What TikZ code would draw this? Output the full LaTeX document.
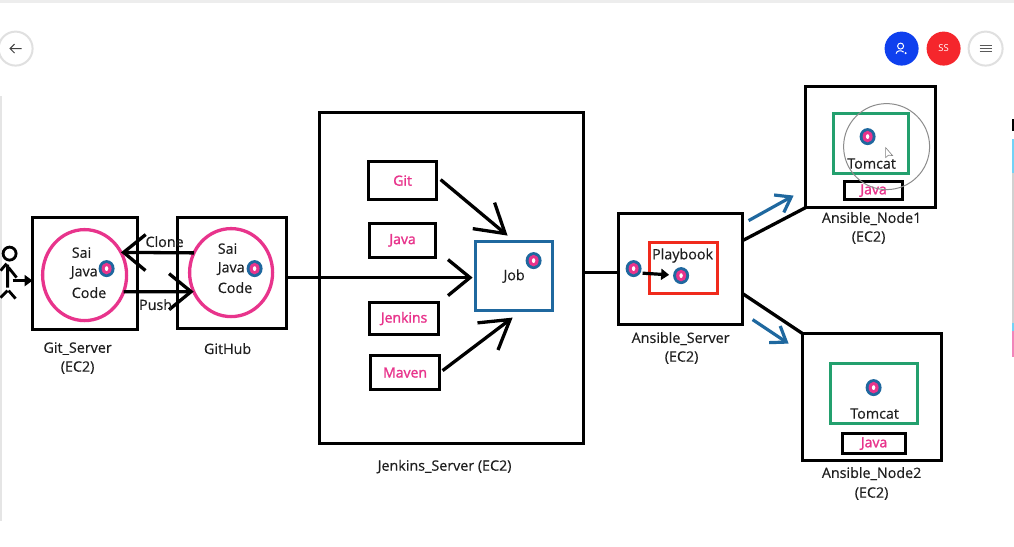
\documentclass[tikz,border=0pt]{standalone}
\usepackage{fontspec}
\setmainfont{Open Sans}
\newfontfamily\lf[FakeBold=0.4]{Open Sans}
\newfontfamily\pf[FakeBold=1.6]{Open Sans}
\usetikzlibrary{arrows.meta,shapes.geometric,calc}
\definecolor{pinkc}{HTML}{E8348C}
\definecolor{blueb}{HTML}{1F689F}
\definecolor{greenb}{HTML}{23A06E}
\definecolor{redb}{HTML}{F02A1C}
\definecolor{txt}{HTML}{1E1E1E}
\tikzset{
  bx/.style={draw=black,line width=3.1pt,rectangle,inner sep=0pt,outer sep=0pt,line join=miter},
  pinkt/.style={font=\pf\fontsize{14}{15}\selectfont,text=pinkc},
  lab/.style={font=\lf\fontsize{14.3}{15}\selectfont,text=txt,inner sep=0pt,yshift=-1pt},
  circ/.style={draw=pinkc,line width=3.3pt,ellipse,inner sep=0pt,outer sep=0pt},
  conn/.style={line width=3.3pt,black},
  barb/.style={conn,-{Straight Barb[length=22pt,width=36pt,line width=3.3pt]}},
  slant/.style={conn,-{Straight Barb[length=28pt,width=34pt,line width=3.3pt]}},
  bluearr/.style={line width=3.2pt,blueb,-{Straight Barb[length=14pt,width=20pt,line width=3.2pt]}},
  uibtn/.style={circle,minimum size=34pt,inner sep=0pt,outer sep=0pt},
  eyedot/.pic={
    \fill[blueb] (0,0) ellipse (8pt and 8.5pt);
    \fill[pinkc] (0,0) ellipse (5pt and 5.8pt);
    \fill[white] (0,0) ellipse (1.7pt and 2.4pt);
  }
}
\begin{document}
\begin{tikzpicture}[x=1pt,y=-1pt]
\useasboundingbox (-0.6,-0.6) rectangle (1013.4,545.4);
\fill[white] (-0.6,-0.6) rectangle (1013.4,545.4);
% window chrome
\fill[black!7] (-0.6,-0.6) rectangle (1013.4,2.5);
\fill[black!10] (-0.6,95) rectangle (1,520);
\fill[black!18] (1011.5,138) rectangle (1013.4,356);
\fill[cyan!55] (1011.5,138) rectangle (1013.4,172);
\fill[cyan!55] (1011.5,322) rectangle (1013.4,330);
\fill[pinkc!60] (1011.5,330) rectangle (1013.4,356);
\fill[black] (1011.5,118) rectangle (1013.4,130);
% toolbar buttons
\node[uibtn,fill=white,draw=black!12,line width=2pt] (back) at (15,48) {};
\draw[black!75,line width=1pt] (21,48) -- (10,48) (14,43.5) -- (9.5,48) -- (14,52.5);
\definecolor{ublue}{HTML}{0F40EE}
\definecolor{ured}{HTML}{F5262C}
\node[uibtn,fill=ublue] (user) at (901,48) {};
\draw[white,line width=1pt] (900,45.5) circle (3pt) (895.5,53) .. controls (896,49.5) and (901,49.5) .. (903,51.5);
\fill[white] (905,52.5) circle (1.2pt);
\node[uibtn,fill=ured,text=white,font=\fontsize{9.5}{10}\selectfont] (ss) at (943,48) {SS};
\node[uibtn,fill=white,draw=black!12,line width=2pt] (menu) at (985,48) {};
\draw[black!65,line width=1pt] (979,45) -- (991,45) (979,48) -- (991,48) (979,51) -- (991,51);
% Git server
\node[bx,minimum width=105pt,minimum height=112pt] (gs) at (84.5,273) {};
\node[circ,minimum width=84pt,minimum height=91pt] (gsc) at (84,274.5) {};
\node[lab,anchor=west] (t1) at (71,251) {Sai};
\node[lab,anchor=west] (t2) at (70,271) {Java};
\node[lab,anchor=west] (t3) at (71,291) {Code};
\pic at (106,268) {eyedot};
\node[lab] (gsl) at (77,347) {Git\_Server};
\node[lab] (gsl2) at (77,366) {(EC2)};
% GitHub
\node[bx,minimum width=109pt,minimum height=111pt] (gh) at (231.5,272.5) {};
\node[circ,minimum width=83pt,minimum height=88pt] (ghc) at (230.5,272) {};
\node[lab,anchor=west] (t4) at (217,247) {Sai};
\node[lab,anchor=west] (t5) at (217,267) {Java};
\node[lab,anchor=west] (t6) at (217,286) {Code};
\pic at (254,268) {eyedot};
\node[lab] (ghl) at (227,347) {GitHub};
% clone / push
\draw[barb] (ghc.152) -- (gsc.32);
\draw[barb] (gsc.-23) -- (ghc.207);
\node[lab] (clone) at (164,240) {Clone};
\node[lab] (push) at (155,303) {Push};
% person
\draw[black,line width=2.8pt] (9,253) circle (6.5pt);
\draw[black,line width=2.8pt] (7,264) -- (7,287) (6,263) -- (0,270) (8,267) -- (16,277) (7,290) -- (0,297) (8,290) -- (15,298);
\coordinate (hand) at (12,280);
\draw[black,line width=3.2pt,-{Triangle[length=8pt,width=11pt]}] (hand) -- (hand -| gs.west);
% Jenkins
\node[bx,minimum width=264pt,minimum height=331pt] (jk) at (451,277.5) {};
\node[lab] (jkl) at (444,465) {Jenkins\_Server (EC2)};
\node[bx,pinkt,minimum width=68pt,minimum height=38pt] (git) at (402,180) {Git};
\node[bx,pinkt,minimum width=66pt,minimum height=34pt] (java) at (402,240) {\raisebox{3pt}{Java}};
\node[bx,pinkt,minimum width=69pt,minimum height=32pt] (jenkins) at (403.5,318) {\raisebox{-1pt}{Jenkins}};
\node[bx,pinkt,minimum width=69pt,minimum height=34pt] (maven) at (404.5,372) {\raisebox{-2.5pt}{Maven}};
\node[bx,draw=blueb,line width=3pt,minimum width=77pt,minimum height=69pt,font=\lf\fontsize{14.3}{15}\selectfont,text=txt] (job) at (513.5,275.5) {\raisebox{-1.5pt}{Job}};
\pic at (533,260) {eyedot};
\draw[barb,shorten >=3pt] ([yshift=-1.5pt]job.west -| gh.east) -- ([yshift=-1.5pt]job.west);
\draw[slant] ($(git.east)+(4,-1)$) -- ($(job.north)+(-6.5,-6)$);
\draw[slant] ($(maven.east)+(3,-2)$) -- ($(job.south)+(-1.5,7)$);
% Ansible server
\node[bx,minimum width=124pt,minimum height=111pt] (as) at (680,268.5) {};
\node[bx,draw=redb,minimum width=68pt,minimum height=51pt] (pb) at (683,267.5) {};
\node[lab] (pbl) at (682,254) {Playbook};
\coordinate (d1) at (633,268);
\coordinate (d2) at (680.5,275);
\pic at (d1) {eyedot};
\pic at (d2) {eyedot};
\draw[black,line width=3.2pt,-{Triangle[length=8pt,width=11pt]},shorten <=9pt,shorten >=12pt] (d1) ++(0,4) -- (d2);
\node[lab] (asl) at (680,337) {Ansible\_Server};
\node[lab] (asl2) at (681,356) {(EC2)};
\draw[conn] (jk.east |- 0,272) -- (as.west |- 0,272);
% Node 1
\node[bx,minimum width=130pt,minimum height=121pt] (n1) at (870,146.5) {};
\node[bx,draw=greenb,minimum width=75pt,minimum height=60pt] (tc1) at (870.5,143) {};
\pic at (867,136) {eyedot};
\node[lab] (tc1l) at (871,162) {Tomcat};
\node[bx,line width=3pt,minimum width=58pt,minimum height=18pt,pinkt,inner sep=0pt] (j1) at (873,190) {Java};
\node[lab] (n1l) at (871,217) {Ansible\_Node1};
\node[lab] (n1l2) at (868,236) {(EC2)};
\draw[conn] (as.east |- 0,240) -- (n1.south west);
\coordinate (a1s) at (748,220);
\coordinate (a1e) at (793,195);
\draw[bluearr] (a1s) -- (a1e);
% Node 2
\node[bx,minimum width=139pt,minimum height=127pt] (n2) at (871.5,396.5) {};
\node[bx,draw=greenb,minimum width=87pt,minimum height=60pt] (tc2) at (873.5,393) {};
\pic at (873,387) {eyedot};
\node[lab] (tc2l) at (874,412) {Tomcat};
\node[bx,line width=3pt,minimum width=63pt,minimum height=20pt,pinkt] (j2) at (873.5,443) {Java};
\node[lab] (n2l) at (871,472) {Ansible\_Node2};
\node[lab] (n2l2) at (871,492) {(EC2)};
\draw[conn] (as.east |- 0,293) -- (n2.north west);
\coordinate (a2s) at (752,319);
\coordinate (a2e) at (788,343);
\draw[bluearr] (a2s) -- (a2e);
% highlight circle and cursor
\draw[black!45,line width=1pt] (886,146) circle (43pt);
\draw[black!50,fill=white,line width=0.6pt] (885,147) -- (885,157) -- (888,154.5) -- (892,155) -- cycle;
\end{tikzpicture}
\end{document}
